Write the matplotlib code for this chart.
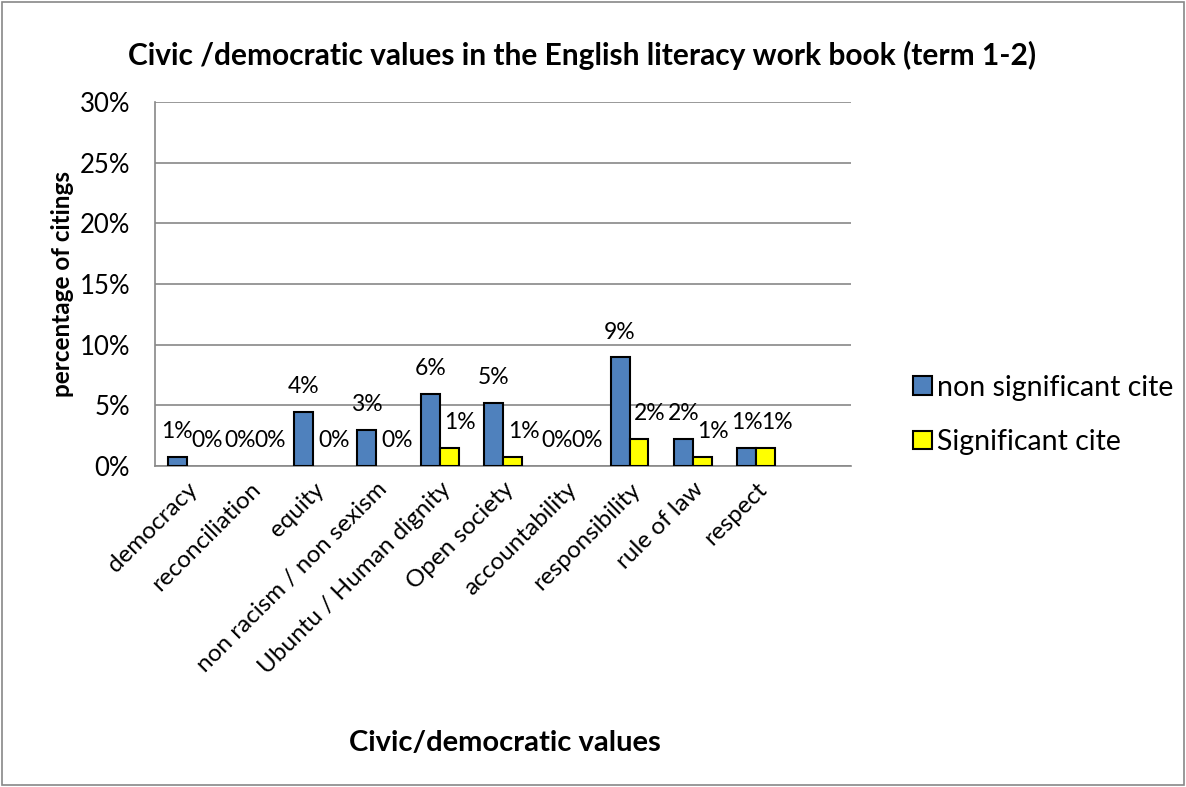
import matplotlib.pyplot as plt
import matplotlib.transforms as mtransforms
import numpy as np
from matplotlib.patches import Rectangle

plt.rcParams['font.family'] = ['Lato', 'DejaVu Sans']

categories = ['democracy', 'reconciliation', 'equity', 'non racism / non sexism',
              'Ubuntu / Human dignity', 'Open society', 'accountability',
              'responsibility', 'rule of law', 'respect']
non_significant = [0.75, 0.0, 4.48, 2.99, 5.97, 5.22, 0.0, 8.96, 2.24, 1.49]
significant = [0.0, 0.0, 0.0, 0.0, 1.49, 0.75, 0.0, 2.24, 0.75, 1.49]
series_names = ['non significant cite', 'Significant cite']
colors = ['#4F81BD', '#FFFF00']

fig = plt.figure(figsize=(11.86, 7.87), dpi=100)
ax = fig.add_axes([0.1307, 0.4079, 0.5868, 0.4625])

x = np.arange(len(categories))
w = 0.3
b1 = ax.bar(x - w / 2, non_significant, w, color=colors[0], edgecolor='black', linewidth=1.5, zorder=3)
b2 = ax.bar(x + w / 2, significant, w, color=colors[1], edgecolor='black', linewidth=1.5, zorder=3)

# yellow labels sit a little to the right, as in the original
for bars, vals, dx in ((b1, non_significant, 0), (b2, significant, 8)):
    for r, v in zip(bars, vals):
        if v == 0:
            r.set_visible(False)
        ax.annotate(f'{v:.0f}%', (r.get_x() + r.get_width() / 2, v), xytext=(dx, 18),
                    textcoords='offset points', ha='center', va='center', fontsize=16.5)

# the original axis leaves room for one empty slot on the right
ax.set_xlim(-0.5, len(categories) + 0.5)
ax.set_ylim(0, 30)
ax.set_yticks(range(0, 31, 5))
ax.set_yticklabels([f'{t}%' for t in range(0, 31, 5)], fontsize=18.5)
ax.yaxis.grid(True, color='#888888', linewidth=1.2, zorder=0)
ax.set_xticks(x)
ax.set_xticklabels(categories, rotation=45, ha='right', rotation_mode='anchor', fontsize=17.5)
shift = mtransforms.ScaledTranslation(-0.1, -0.1, fig.dpi_scale_trans)
for lab in ax.get_xticklabels():
    lab.set_transform(lab.get_transform() + shift)
ax.tick_params(axis='x', length=0, pad=9)
ax.tick_params(axis='y', length=0, pad=18)
for s in ['top', 'right']:
    ax.spines[s].set_visible(False)
for s in ['left', 'bottom']:
    ax.spines[s].set_color('#888888')
    ax.spines[s].set_linewidth(1.2)

ax.set_ylabel('percentage of citings', fontsize=17.5, fontweight='bold', labelpad=4)
fig.text(0.426, 0.056, 'Civic/democratic values', ha='center', va='center',
         fontsize=21, fontweight='bold')
fig.text(0.491, 0.929, 'Civic /democratic values in the English literacy work book (term 1-2)',
         ha='center', va='center', fontsize=21.5, fontweight='bold')

handles = [Rectangle((0, 0), 1, 1, facecolor=c, edgecolor='black', linewidth=1.5) for c in colors]
fig.legend(handles, series_names, loc='center left', bbox_to_anchor=(0.770, 0.473), frameon=False,
           fontsize=20.5, handlelength=0.65, handleheight=0.6, handletextpad=0.2, labelspacing=1.0,
           borderaxespad=0, borderpad=0)

fig.patches.append(Rectangle((0.002, 0.002), 0.996, 0.996, transform=fig.transFigure,
                             fill=False, edgecolor='#888888', linewidth=1.2))

fig.savefig('out.png', dpi=100)
